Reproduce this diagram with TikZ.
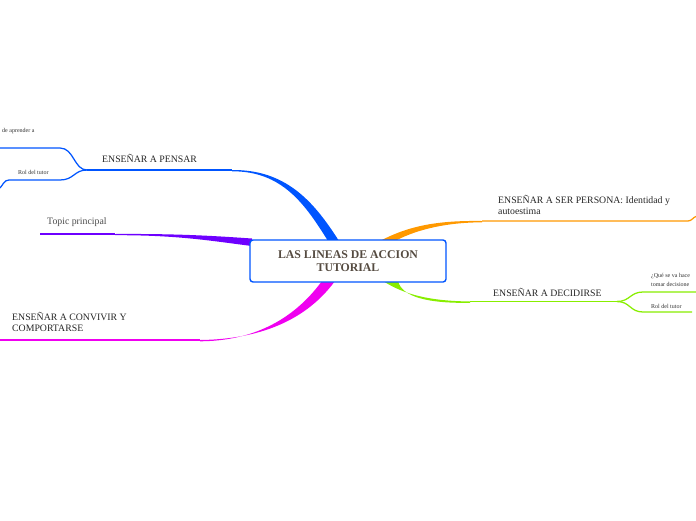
\documentclass[tikz,border=0pt]{standalone}
\usepackage{fontspec}
\setmainfont{Liberation Serif}
\usetikzlibrary{positioning,calc}
\definecolor{azul}{RGB}{0,85,255}
\definecolor{morado}{RGB}{110,0,255}
\definecolor{rosa}{RGB}{240,0,240}
\definecolor{naranja}{RGB}{255,153,0}
\definecolor{verde}{RGB}{136,238,0}
\definecolor{tinta}{RGB}{85,75,65}
\begin{document}
\begin{tikzpicture}[x=1pt,y=-1pt,
    tema/.style={anchor=west,inner sep=0pt,font=\fontsize{9.8}{11}\selectfont,text=black!85,align=left},
    subtema/.style={anchor=west,inner sep=0pt,font=\fontsize{6}{8.5}\selectfont,text=black!80,align=left},
    linea/.style={line width=1.25pt},
    centro/.style={draw=azul,line width=1.4pt,fill=white,rounded corners=3pt,minimum width=196pt,minimum height=42pt,align=center,text=tinta,font=\bfseries\fontsize{11.8}{13}\selectfont}]
  \useasboundingbox[fill=white] (0,0) rectangle (696,520);
  % puntos de union
  \coordinate (pensar-j) at (232,170);
  \coordinate (pensar-s) at (87,170);
  \coordinate (topic-j) at (115,234);
  \coordinate (topic-s) at (40,234);
  \coordinate (convivir-j) at (200,340);
  \coordinate (convivir-s) at (0,340);
  \coordinate (persona-j) at (482,221);
  \coordinate (persona-s) at (688,221);
  \coordinate (decidir-j) at (470,301.5);
  \coordinate (decidir-s) at (617,301.5);
  % ramas principales
  \fill[azul] (pensar-j) .. controls (285,169.5) and (313,200) .. (339,241) -- (328,241)
    .. controls (305,204) and (282,171) .. ($(pensar-j)+(0,1.3)$) -- cycle;
  \draw[azul,linea] (pensar-s) -- (pensar-j);
  \fill[morado] (topic-j) .. controls (180,233.6) and (215,236) .. (252,238.5) -- (252,246)
    .. controls (215,241.5) and (180,235) .. ($(topic-j)+(0,1.2)$) -- cycle;
  \draw[morado,linea] (topic-s) -- (topic-j);
  \fill[rosa] (335,281) .. controls (302,326) and (250,339.4) .. (convivir-j) -- ($(convivir-j)+(0,1.3)$)
    .. controls (250,341) and (292,322) .. (322,281) -- cycle;
  \draw[rosa,linea] (convivir-s) -- (convivir-j);
  \fill[naranja] (380,241) .. controls (410,225) and (440,220.4) .. (persona-j) -- ($(persona-j)+(0,1.3)$)
    .. controls (440,222.5) and (412,232) .. (395,241) -- cycle;
  \draw[naranja,linea] (persona-j) -- (persona-s) .. controls (692,221) and (693,217) .. (697,216);
  \fill[verde] (383,281) .. controls (405,295) and (430,300.9) .. (decidir-j) -- ($(decidir-j)+(0,1.3)$)
    .. controls (428,303.5) and (402,297) .. (398,281) -- cycle;
  \draw[verde,linea] (decidir-j) -- (decidir-s);
  % ramas secundarias
  \draw[azul,linea] (pensar-s) .. controls (74,170) and (74,148) .. (60,148) -- (0,148);
  \draw[azul,linea] (pensar-s) .. controls (74,170) and (74,180) .. (60,180) -- (9,180)
    .. controls (4,180) and (3,185) .. (0,188);
  \draw[verde,linea] (decidir-s) .. controls (630,301.5) and (630,292) .. (643,292) -- (697,292);
  \draw[verde,linea] (decidir-s) .. controls (630,301.5) and (630,312) .. (643,312) -- (692,312);
  % nodo central
  \node[centro] (principal) at (348,261) {LAS LINEAS DE ACCION\\TUTORIAL};
  % textos
  \node[tema] (pensar) at (102,158.5) {ENSEÑAR A PENSAR};
  \node[subtema] (aprender) at (2,131) {de aprender a};
  \node[subtema] (rol-pensar) at (18,172.5) {Rol del tutor};
  \node[tema,text=black!70] (topic) at (47,222) {Topic principal};
  \node[tema] (convivir) at (12,322) {ENSEÑAR A CONVIVIR Y\\COMPORTARSE};
  \node[tema] (persona) at (498,204.5) {ENSEÑAR A SER PERSONA: Identidad y\\autoestima};
  \node[tema] (decidir) at (493,292) {ENSEÑAR A DECIDIRSE};
  \node[subtema] (hacer) at (651,280) {¿Qué se va hace\\tomar decisione};
  \node[subtema] (rol-decidir) at (651,306) {Rol del tutor};
\end{tikzpicture}
\end{document}
